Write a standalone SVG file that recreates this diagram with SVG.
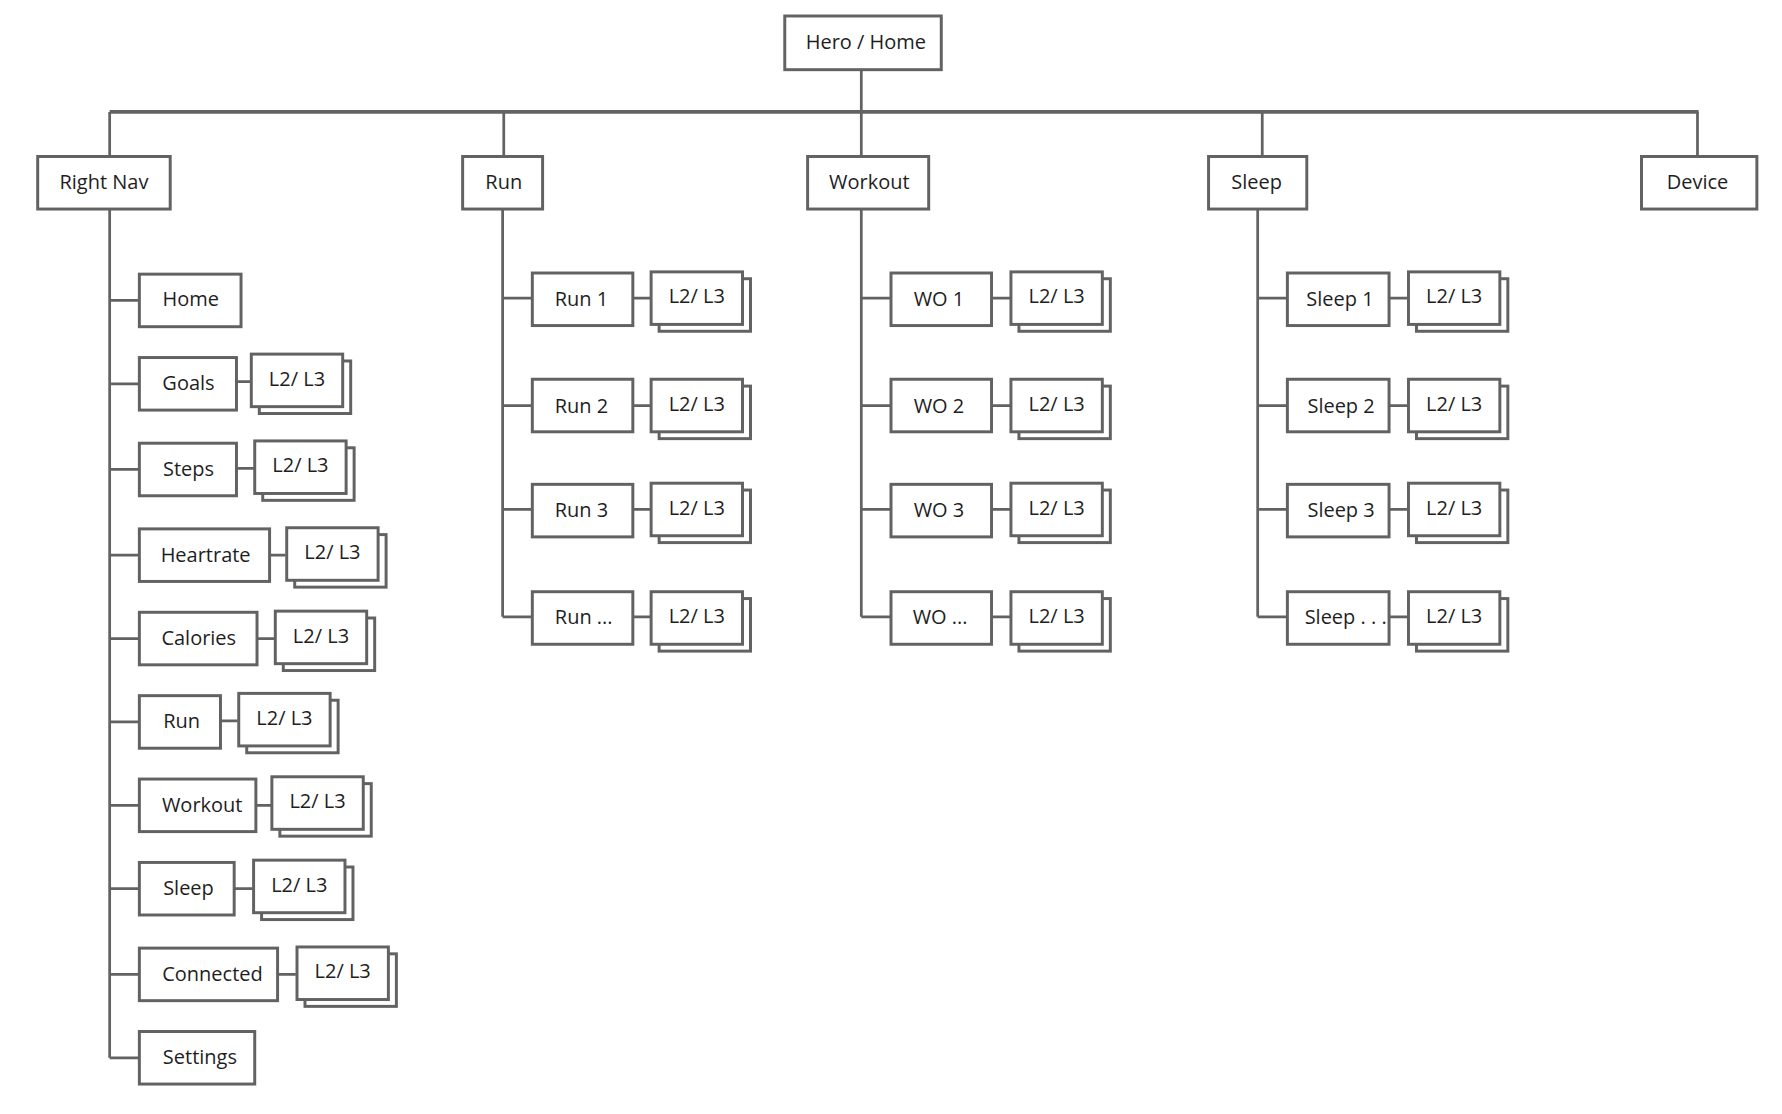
<svg xmlns="http://www.w3.org/2000/svg" width="1782" height="1114" viewBox="0 0 1782 1114">
<style>
rect{fill:#fff;stroke:#626262;stroke-width:2.6}
.c line,.c path{stroke:#626262;stroke-width:2.4;fill:none}
text{font-family:"Open Sans","Liberation Sans",sans-serif;font-size:17.5px;fill:#1e1e1e;text-anchor:middle;dominant-baseline:central}
</style>
<defs>
<g id="l23"><rect x="7" y="6" width="80" height="46"/><rect x="0" y="0" width="80" height="46"/><text x="40" y="21">L2/ L3</text></g>
</defs>
<rect x="0" y="0" width="1782" height="1114" style="fill:#fff;stroke:none"/>
<g transform="scale(1.14231)">
<g class="c" id="connectors">
<line x1="754" y1="61" x2="754" y2="98"/>
<line x1="96" y1="98" x2="1487" y2="98" style="stroke-width:3.2"/>
<line x1="96" y1="98" x2="96" y2="137"/><line x1="441" y1="98" x2="441" y2="137"/><line x1="754" y1="98" x2="754" y2="137"/><line x1="1105" y1="98" x2="1105" y2="137"/><line x1="1486" y1="98" x2="1486" y2="137"/>
<path d="M96 183V926M96 263H122M96 336H122M96 411H122M96 486H122M96 559H122M96 632H122M96 705H122M96 778H122M96 853H122M96 926H122"/>
<path d="M207 334H220M207 410H223M236 486H250M225 559H241M193 631H208M224 705H238M205 778H221M243 853H259"/>
<path d="M440 183V540M440 261H466M440 355H466M440 446H466M440 540H466M554 261H570M554 355H570M554 446H570M554 540H570"/>
<path d="M754 183V540M754 261H780M754 355H780M754 446H780M754 540H780M868 261H885M868 355H885M868 446H885M868 540H885"/>
<path d="M1101 183V540M1101 261H1127M1101 355H1127M1101 446H1127M1101 540H1127M1216 261H1232M1216 355H1232M1216 446H1232M1216 540H1232"/>
</g>
<g id="hero"><rect x="687" y="14" width="137" height="47"/><text x="758" y="36">Hero / Home</text></g>
<g id="rightnav"><rect x="33" y="137" width="116" height="46"/><text x="91" y="159">Right Nav</text></g>
<g id="run"><rect x="405" y="137" width="70" height="46"/><text x="441" y="159">Run</text></g>
<g id="workout"><rect x="707" y="137" width="106" height="46"/><text x="761" y="159">Workout</text></g>
<g id="sleep"><rect x="1058" y="137" width="86" height="46"/><text x="1100" y="159">Sleep</text></g>
<g id="device"><rect x="1437" y="137" width="101" height="46"/><text x="1486" y="159">Device</text></g>
<g id="rn-home"><rect x="122" y="240" width="89" height="46"/><text x="167" y="261">Home</text></g>
<g id="rn-goals"><rect x="122" y="313" width="85" height="46"/><text x="165" y="335">Goals</text><use href="#l23" x="220" y="310"/></g>
<g id="rn-steps"><rect x="122" y="388" width="85" height="46"/><text x="165" y="410">Steps</text><use href="#l23" x="223" y="386"/></g>
<g id="rn-heartrate"><rect x="122" y="463" width="114" height="46"/><text x="180" y="485">Heartrate</text><use href="#l23" x="251" y="462"/></g>
<g id="rn-calories"><rect x="122" y="536" width="103" height="46"/><text x="174" y="558">Calories</text><use href="#l23" x="241" y="535"/></g>
<g id="rn-run"><rect x="122" y="609" width="71" height="46"/><text x="159" y="631">Run</text><use href="#l23" x="209" y="607"/></g>
<g id="rn-workout"><rect x="122" y="682" width="102" height="46"/><text x="177" y="704">Workout</text><use href="#l23" x="238" y="680"/></g>
<g id="rn-sleep"><rect x="122" y="755" width="83" height="46"/><text x="165" y="777">Sleep</text><use href="#l23" x="222" y="753"/></g>
<g id="rn-connected"><rect x="122" y="830" width="121" height="46"/><text x="186" y="852">Connected</text><use href="#l23" x="260" y="829"/></g>
<g id="rn-settings"><rect x="122" y="903" width="101" height="46"/><text x="175" y="925">Settings</text></g>
<g id="run-1"><rect x="466" y="239" width="88" height="46"/><text x="509" y="261">Run 1</text><use href="#l23" x="570" y="238"/></g>
<g id="run-2"><rect x="466" y="332" width="88" height="46"/><text x="509" y="355">Run 2</text><use href="#l23" x="570" y="332"/></g>
<g id="run-3"><rect x="466" y="424" width="88" height="46"/><text x="509" y="446">Run 3</text><use href="#l23" x="570" y="423"/></g>
<g id="run-more"><rect x="466" y="518" width="88" height="46"/><text x="511" y="540">Run ...</text><use href="#l23" x="570" y="518"/></g>
<g id="wo-1"><rect x="780" y="239" width="88" height="46"/><text x="822" y="261">WO 1</text><use href="#l23" x="885" y="238"/></g>
<g id="wo-2"><rect x="780" y="332" width="88" height="46"/><text x="822" y="355">WO 2</text><use href="#l23" x="885" y="332"/></g>
<g id="wo-3"><rect x="780" y="424" width="88" height="46"/><text x="822" y="446">WO 3</text><use href="#l23" x="885" y="423"/></g>
<g id="wo-more"><rect x="780" y="518" width="88" height="46"/><text x="823" y="540">WO ...</text><use href="#l23" x="885" y="518"/></g>
<g id="sleep-1"><rect x="1127" y="239" width="89" height="46"/><text x="1173" y="261">Sleep 1</text><use href="#l23" x="1233" y="238"/></g>
<g id="sleep-2"><rect x="1127" y="332" width="89" height="46"/><text x="1174" y="355">Sleep 2</text><use href="#l23" x="1233" y="332"/></g>
<g id="sleep-3"><rect x="1127" y="424" width="89" height="46"/><text x="1174" y="446">Sleep 3</text><use href="#l23" x="1233" y="423"/></g>
<g id="sleep-more"><rect x="1127" y="518" width="89" height="46"/><text x="1178" y="540">Sleep . . .</text><use href="#l23" x="1233" y="518"/></g>
</g>
</svg>
